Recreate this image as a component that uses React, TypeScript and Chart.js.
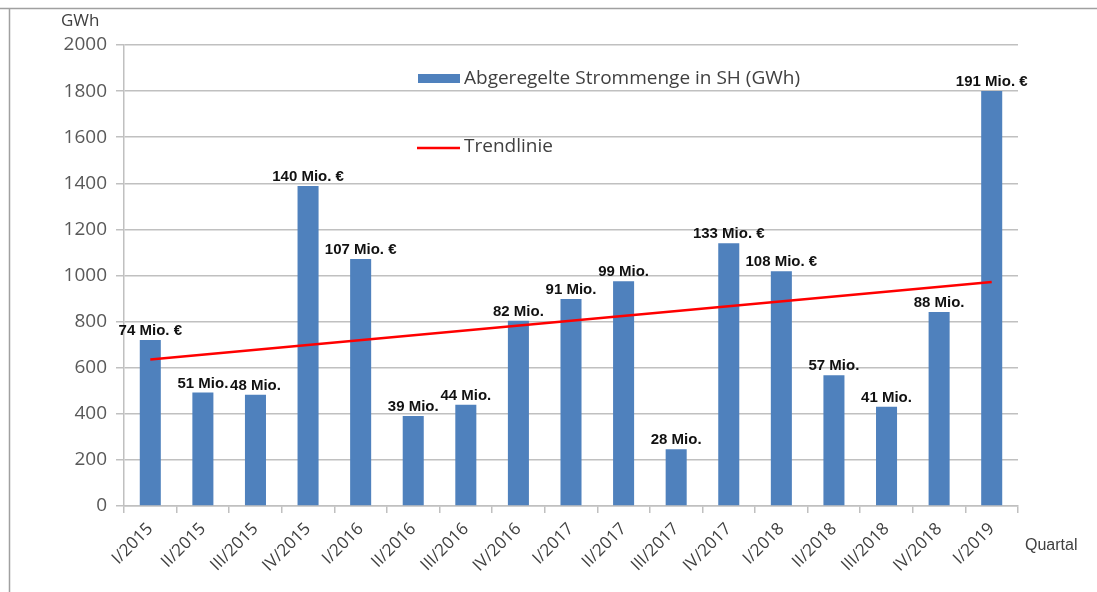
import React, { useEffect, useRef } from "react";
import { Chart, registerables } from "chart.js";

Chart.register(...registerables);

const categories = [
  "I/2015", "II/2015", "III/2015", "IV/2015",
  "I/2016", "II/2016", "III/2016", "IV/2016",
  "I/2017", "II/2017", "III/2017", "IV/2017",
  "I/2018", "II/2018", "III/2018", "IV/2018",
  "I/2019",
];

const energyGWh = [
  720, 492, 483, 1388,
  1072, 390, 439, 804,
  898, 975, 246, 1140,
  1018, 567, 431, 842,
  1800,
];

const costLabels = [
  "74 Mio. €", "51 Mio.", "48 Mio.", "140 Mio. €",
  "107 Mio. €", "39 Mio.", "44 Mio.", "82 Mio.",
  "91 Mio.", "99 Mio.", "28 Mio.", "133 Mio. €",
  "108 Mio. €", "57 Mio.", "41 Mio.", "88 Mio.",
  "191 Mio. €",
];

// Trend line: only its two end points are given
const trendStart = 636;
const trendEnd = 972;
const trendData = categories.map((_, i) =>
  i === 0 ? trendStart : i === categories.length - 1 ? trendEnd : null
);

const yTicks = [0, 200, 400, 600, 800, 1000, 1200, 1400, 1600, 1800, 2000];

const barLabel = "Abgeregelte Strommenge in SH (GWh)";
const trendLabel = "Trendlinie";
const yTitle = "GWh";
const xTitle = "Quartal";

const BAR_COLOR = "#4f81bd";
const TREND_COLOR = "#ff0000";
const GRID_COLOR = "#c0c0c0";
const SANS = "'Open Sans', Lato, sans-serif";

const decorPlugin = {
  id: "decor",
  beforeDraw(chart: any) {
    const ctx = chart.ctx;
    ctx.save();
    ctx.fillStyle = "#ffffff";
    ctx.fillRect(0, 0, chart.width, chart.height);
    ctx.strokeStyle = "#a0a0a0";
    ctx.lineWidth = 1.5;
    ctx.beginPath();
    ctx.moveTo(0, 8.5);
    ctx.lineTo(chart.width, 8.5);
    ctx.moveTo(9.5, 8);
    ctx.lineTo(9.5, chart.height);
    ctx.stroke();
    ctx.restore();
  },
  afterDraw(chart: any) {
    const ctx = chart.ctx;
    ctx.save();
    // Axis titles
    ctx.fillStyle = "#404040";
    ctx.font = "17px " + SANS;
    ctx.textAlign = "left";
    ctx.textBaseline = "middle";
    ctx.fillText(yTitle, 61, 21);
    ctx.font = "16px 'Liberation Sans', Arial, sans-serif";
    ctx.fillText(xTitle, 1025, 546);

    // Data labels
    const meta = chart.getDatasetMeta(0);
    ctx.fillStyle = "#111111";
    ctx.font = "bold 15px 'Liberation Sans', Arial, sans-serif";
    ctx.textAlign = "center";
    ctx.textBaseline = "alphabetic";
    meta.data.forEach((el: any, i: number) => {
      ctx.fillText(costLabels[i], el.x, el.y - 5);
    });

    // Legend
    ctx.fillStyle = BAR_COLOR;
    ctx.fillRect(418, 74, 42, 9);
    ctx.strokeStyle = TREND_COLOR;
    ctx.lineWidth = 2.5;
    ctx.beginPath();
    ctx.moveTo(417, 148);
    ctx.lineTo(460, 148);
    ctx.stroke();
    ctx.fillStyle = "#404040";
    ctx.font = "19px " + SANS;
    ctx.textAlign = "left";
    ctx.textBaseline = "middle";
    ctx.fillText(barLabel, 464, 79);
    ctx.fillText(trendLabel, 464, 147);
    ctx.restore();
  },
};

export default function App() {
  const canvasRef = useRef<HTMLCanvasElement | null>(null);

  useEffect(() => {
    document.body.style.margin = "0";
    const canvas = canvasRef.current;
    if (!canvas) return;
    const chart = new Chart(canvas, {
      type: "bar",
      data: {
        labels: categories,
        datasets: [
          {
            type: "bar",
            label: barLabel,
            data: energyGWh,
            backgroundColor: BAR_COLOR,
            borderWidth: 0,
            barPercentage: 0.8,
            categoryPercentage: 0.5,
            order: 2,
          } as any,
          {
            type: "line",
            label: trendLabel,
            data: trendData,
            borderColor: TREND_COLOR,
            borderWidth: 2.5,
            pointRadius: 0,
            spanGaps: true,
            fill: false,
            order: 1,
          } as any,
        ],
      },
      options: {
        responsive: false,
        animation: false,
        layout: { padding: { left: 0, right: 79, top: 45, bottom: 0 } },
        plugins: {
          legend: { display: false },
          tooltip: { enabled: false },
        },
        scales: {
          x: {
            grid: {
              display: true,
              drawOnChartArea: false,
              drawTicks: true,
              tickLength: 7,
              color: GRID_COLOR,
              lineWidth: 1.5,
              offset: true,
            },
            border: { color: GRID_COLOR, width: 1.5 },
            ticks: {
              minRotation: 45,
              maxRotation: 45,
              autoSkip: false,
              color: "#404040",
              padding: 6,
              font: { family: SANS, size: 17 },
            },
            afterFit: (s: any) => {
              s.height = 86;
            },
          },
          y: {
            min: 0,
            max: 2000,
            afterBuildTicks: (s: any) => {
              s.ticks = yTicks.map((v) => ({ value: v }));
            },
            grid: {
              color: GRID_COLOR,
              lineWidth: 1.5,
              tickLength: 8,
            },
            border: { color: GRID_COLOR, width: 1.5 },
            ticks: {
              color: "#595959",
              padding: 9,
              font: { family: SANS, size: 19 },
              callback: (v: any) => String(v),
            },
            afterFit: (s: any) => {
              s.width = 124;
            },
          },
        },
      },
      plugins: [decorPlugin],
    });
    return () => chart.destroy();
  }, []);

  return (
    <div style={{ position: "absolute", left: 0, top: 0, width: 1097, height: 592 }}>
      <canvas ref={canvasRef} width={1097} height={592} style={{ display: "block" }} />
    </div>
  );
}
